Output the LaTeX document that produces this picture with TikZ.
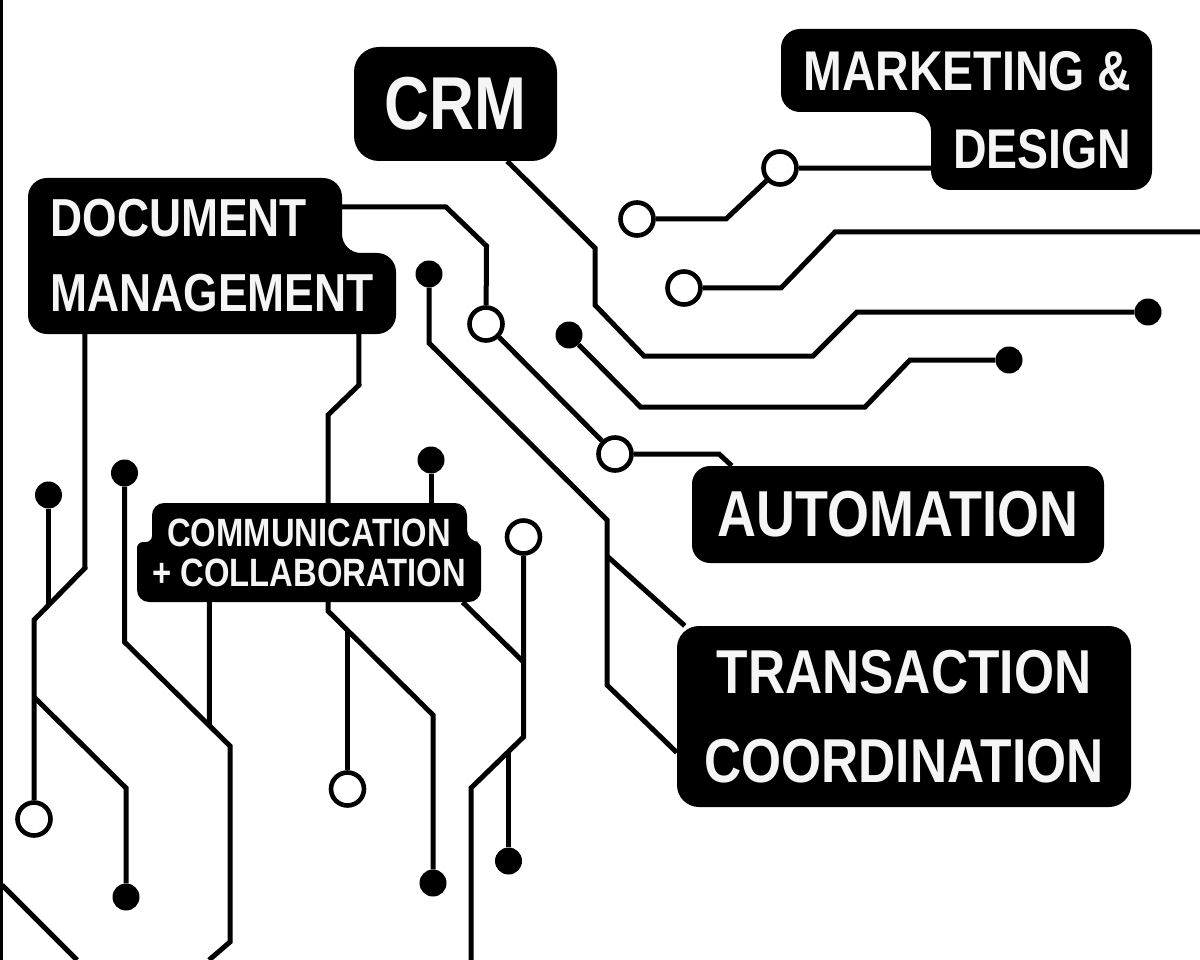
\documentclass[tikz,border=0pt]{standalone}
\usepackage{fontspec}
\usepackage{xcolor}
\usepackage{tikz}
\usetikzlibrary{backgrounds}
\newfontfamily\tagfont{Liberation Sans}[FakeStretch=0.83]
\begin{document}
\begin{tikzpicture}[
        x=1pt,y=-1pt,
        wire/.style={line width=5pt,black,line join=miter},
        pad/.style={circle,fill=black,inner sep=0pt,minimum size=27pt},
        ring/.style={circle,draw=black,line width=4.6pt,fill=white,inner sep=0pt,minimum size=33pt},
        tagfill/.style={fill=black},
        tag/.style={inner sep=0pt,align=center,text=white!96!black},
        tagbox/.style={tag,fill=black,rounded corners=#1}
    ]
        \useasboundingbox (0,0) rectangle (1200,960);

        \fill[tagfill,rounded corners=19pt] (781,29) -- (1152,29) -- (1152,190) -- (931,190) -- (931,112) -- (781,112) -- cycle;
        \fill[tagfill,rounded corners=19pt] (28,178) -- (342,178) -- (342,253) -- (396,253) -- (396,334) -- (28,334) -- cycle;
        \fill[tagfill,rounded corners=12pt] (152,503) -- (467,503) -- (467,542) [rounded corners=6pt] -- (481,542) [rounded corners=12pt] -- (481,602) -- (137,602) [rounded corners=6pt] -- (137,542) -- (152,542) [rounded corners=12pt] -- cycle;

        \node[tagbox=25pt,minimum width=203pt,minimum height=114pt,font=\tagfont\bfseries\fontsize{75}{80}\selectfont] (crm) at (455.5,104) {\raisebox{-1.5pt}{CRM}};
        \node[tag,minimum width=371pt,minimum height=161pt,align=right,font=\tagfont\bfseries\fontsize{56}{78}\selectfont] (marketing) at (967.5,110) {MARKETING \&\\DESIGN};
        \node[tag,minimum width=368pt,minimum height=156pt,align=left,font=\tagfont\bfseries\fontsize{53.5}{75}\selectfont] (document) at (212,256) {DOCUMENT\\MANAGEMENT};
        \node[tag,minimum width=344pt,minimum height=99pt,font=\tagfont\bfseries\fontsize{39.5}{40}\selectfont] (communication) at (309,552.5) {COMMUNICATION\\+ COLLABORATION};
        \node[tagbox=18pt,minimum width=412pt,minimum height=97pt,font=\tagfont\bfseries\fontsize{65}{70}\selectfont] (automation) at (898,514.5) {AUTOMATION};
        \node[tagbox=22pt,minimum width=454pt,minimum height=181pt,font=\tagfont\bfseries\fontsize{62}{89}\selectfont] (transaction) at (904,716.5) {TRANSACTION\\COORDINATION};

        \node[ring] (rmarkA) at (780,168) {};
        \node[ring] (rmarkB) at (637,219) {};
        \node[ring] (rlong) at (684,288) {};
        \node[ring] (rdocA) at (486,324) {};
        \node[ring] (rdocB) at (615,454) {};
        \node[ring] (rleft) at (34,819) {};
        \node[ring] (rmid) at (347.5,789) {};
        \node[ring] (rright) at (523.5,537) {};

        \node[pad] (pcrm) at (1148,312) {};
        \node[pad] (pupA) at (569,335) {};
        \node[pad] (pupB) at (1009,360) {};
        \node[pad] (ptrans) at (429,274) {};
        \node[pad] (pleftA) at (48.5,495) {};
        \node[pad] (pleftB) at (124.5,473) {};
        \node[pad] (pleftC) at (126,897) {};
        \node[pad] (pmidA) at (433,883) {};
        \node[pad] (pmidB) at (431,460) {};
        \node[pad] (plow) at (508.5,861) {};

        \coordinate (eright) at (1200,232);
        \coordinate (jwest) at (34,697);
        \coordinate (jbus) at (209.5,725);
        \coordinate (jcross) at (607,556);
        \coordinate (jmid) at (347.5,630);
        \coordinate (jlow) at (523.5,662);
        \coordinate (jdrop) at (508.5,752);
        \coordinate (jdiag) at (48.5,604);
        \coordinate (ebusA) at (209,960);
        \coordinate (ecornerA) at (2,885);
        \coordinate (ecornerB) at (77,960);
        \coordinate (elow) at (471,960);

        \begin{scope}[on background layer]
            \draw[line width=3pt] (1,0) -- (1,960);
            \draw[wire] ([xshift=-50pt]crm.south east) -- (595,248) -- (595,305) -- (644,356) -- (813,356) -- (857,312) -- (pcrm);
            \draw[wire] ([xshift=-36.5pt,yshift=22.5pt]marketing.south) -- (rmarkA);
            \draw[wire] (rmarkA) -- (726,219) -- (rmarkB);
            \draw[wire] (eright) -- (835,232) -- (781,288) -- (rlong);
            \draw[wire] (pupA) -- (640.5,407) -- (865,407) -- (910,360) -- (pupB);
            \draw[wire] ([xshift=-54pt,yshift=-29pt]document.north east) -- (446,207) -- (486.5,246) -- (rdocA);
            \draw[wire] (rdocA) -- (rdocB);
            \draw[wire] (rdocB) -- (719,454) -- ([xshift=40pt]automation.north west);
            \draw[wire] (ptrans) -- (429,343) -- (607,520) -- (607,685) -- ([yshift=-36pt]transaction.west);
            \draw[wire] (jcross) -- ([xshift=8pt]transaction.north west);
            \draw[wire] ([xshift=57pt]document.south west) -- (85,568) -- (34,620) -- (rleft);
            \draw[wire] (pleftA) -- (jdiag);
            \draw[wire] (jwest) -- (126,788) -- (pleftC);
            \draw[wire] (pleftB) -- (124.5,642) -- (230,746) -- (230,942) -- (ebusA);
            \draw[wire] ([xshift=72.5pt]communication.south west) -- (jbus);
            \draw[wire] (ecornerA) -- (ecornerB);
            \draw[wire] ([xshift=331pt]document.south west) -- (359,385) -- (328,415) -- (328,611) -- (433,715) -- (pmidA);
            \draw[wire] (jmid) -- (rmid);
            \draw[wire] (pmidB) -- (431,503);
            \draw[wire] (rright) -- (523.5,737) -- (471,788) -- (elow);
            \draw[wire] ([xshift=-18.5pt]communication.south east) -- (jlow);
            \draw[wire] (plow) -- (jdrop);
        \end{scope}
    \end{tikzpicture}
\end{document}
